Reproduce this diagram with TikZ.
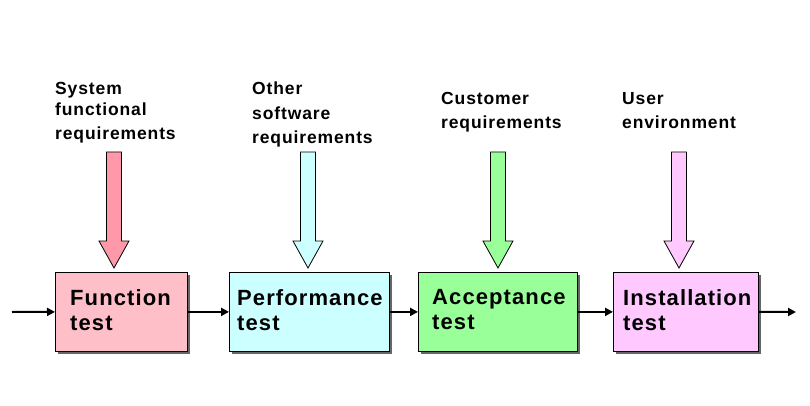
\documentclass[tikz,border=0pt]{standalone}
\usepackage{fontspec}
\newfontfamily\dfont{Liberation Sans}[LetterSpace=5]
\usetikzlibrary{calc,shadows,arrows.meta}
\definecolor{boxpink}{RGB}{255,191,201}
\definecolor{arrpink}{RGB}{255,153,170}
\definecolor{boxcyan}{RGB}{204,255,255}
\definecolor{boxgreen}{RGB}{153,255,153}
\definecolor{boxviolet}{RGB}{255,200,255}
\newcommand\fatarr[3]{%
  \draw[fatline, fill=#1] ($(#2)+(-7.5,0)$) -- ($(#2)+(7.5,0)$) -- ($(#3)+(7.5,-27)$)
    -- ($(#3)+(15,-27)$) -- (#3) -- ($(#3)+(-15,-27)$) -- ($(#3)+(-7.5,-27)$) -- cycle;}
\begin{document}
\begin{tikzpicture}[x=1pt,y=-1pt,
  box/.style={draw=black, line width=0.8pt, rectangle, anchor=north west, inner sep=0pt,
    drop shadow={shadow xshift=2.5pt, shadow yshift=-2.5pt, fill=black!60, opacity=1}},
  boxtext/.style={anchor=north west, inner sep=0pt, align=left,
    font=\dfont\bfseries\fontsize{22}{25}\selectfont},
  lbl/.style={anchor=north west, inner sep=0pt, align=left,
    font=\dfont\bfseries\fontsize{17.5}{24.5}\selectfont},
  fatline/.style={draw=black, line width=0.8pt, line join=miter},
  flow/.style={line width=2pt, -{Triangle[length=8pt,width=8pt]}}]
\useasboundingbox (0,0) rectangle (810,406);
% boxes
\node[box, fill=boxpink, minimum width=132pt, minimum height=79pt] (b1) at (55,272) {};
\node[box, fill=boxcyan, minimum width=160pt, minimum height=79pt] (b2) at (229,272) {};
\node[box, fill=boxgreen, minimum width=159pt, minimum height=79pt] (b3) at (418,272) {};
\node[box, fill=boxviolet, minimum width=145pt, minimum height=79pt] (b4) at (613,272) {};
% box texts
\node[boxtext] (t1) at (70,289) {Function\\test};
\node[boxtext] (t2) at (237,289) {Performance\\test};
\node[boxtext] (t3) at (432,289) {Acceptance\\test};
\node[boxtext] (t4) at (623,289) {Installation\\test};
% labels
\node[lbl] (l1) at (55,82) {System\\[-3.5pt]functional\\requirements};
\node[lbl] (l2) at (252,82) {Other\\software\\requirements};
\node[lbl] (l3) at (441,92) {Customer\\requirements};
\node[lbl] (l4) at (622,92) {User\\environment};
% fat arrows
\coordinate (s1) at (114,152); \coordinate (e1) at (114,268);
\coordinate (s2) at (308,152); \coordinate (e2) at (308,268);
\coordinate (s3) at (498,152); \coordinate (e3) at (498,268);
\coordinate (s4) at (679,152); \coordinate (e4) at (679,268);
\fatarr{arrpink}{s1}{e1}
\fatarr{boxcyan}{s2}{e2}
\fatarr{boxgreen}{s3}{e3}
\fatarr{boxviolet}{s4}{e4}
% flow arrows
\coordinate (in) at (12,312);
\coordinate (out) at (796,312);
\draw[flow] (in) -- (b1.west);
\draw[flow] (b1.east) -- (b2.west);
\draw[flow] (b2.east) -- (b3.west);
\draw[flow] (b3.east) -- (b4.west);
\draw[flow] (b4.east) -- (out);
\end{tikzpicture}
\end{document}
